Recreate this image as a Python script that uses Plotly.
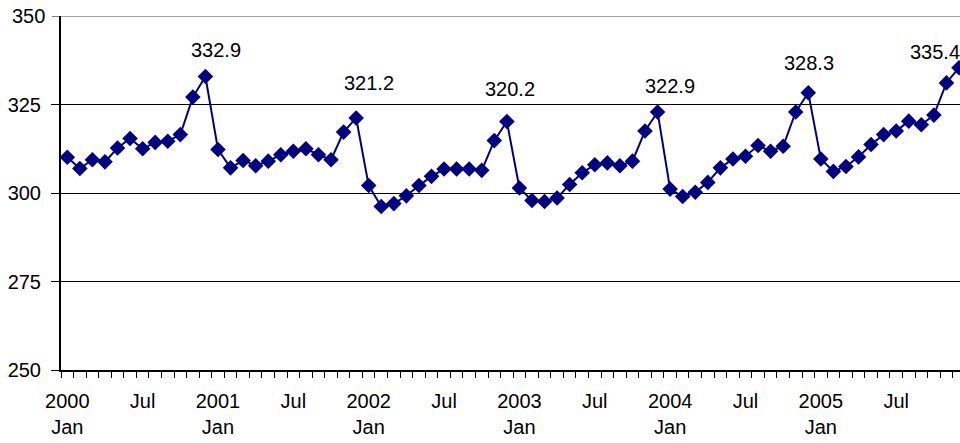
import plotly.graph_objects as go

years = [2000, 2001, 2002, 2003, 2004, 2005]
months = ["Jan", "Feb", "Mar", "Apr", "May", "Jun",
          "Jul", "Aug", "Sep", "Oct", "Nov", "Dec"]
categories = [f"{y} {m}" for y in years for m in months]

values = [
    310.1, 306.9, 309.4, 308.8, 312.7, 315.4, 312.5, 314.3, 314.6, 316.5, 327.1, 332.9,
    312.3, 307.1, 309.2, 307.7, 309.0, 310.8, 311.8, 312.5, 310.8, 309.4, 317.2, 321.2,
    302.1, 296.2, 297.0, 299.2, 302.1, 304.7, 306.8, 306.8, 306.8, 306.4, 314.8, 320.2,
    301.4, 297.9, 297.6, 298.6, 302.4, 305.7, 308.0, 308.5, 307.7, 309.0, 317.5, 322.9,
    301.1, 299.0, 300.2, 303.0, 307.1, 309.6, 310.4, 313.4, 311.8, 313.2, 322.9, 328.3,
    309.6, 306.1, 307.5, 310.2, 313.7, 316.5, 317.5, 320.3, 319.3, 322.0, 331.1, 335.4,
]

tick_idx = list(range(0, 72, 6))
tick_text = [f"{years[i // 12]}<br>Jan" if i % 12 == 0 else "Jul" for i in tick_idx]

peak_idx = [11, 23, 35, 47, 59, 71]
peak_dx = [11, 13, 3, 12, 1, -24]
peak_dy = [27, 35, 32, 26, 30, 16]

x = list(range(len(categories)))

fig = go.Figure()
fig.add_trace(go.Scatter(
    x=x, y=values, mode="lines+markers",
    line=dict(color="#000080", width=2),
    marker=dict(symbol="diamond", size=12, color="#000080"),
    text=categories, hoverinfo="text+y",
    showlegend=False, cliponaxis=False,
))

for i, dx, dy in zip(peak_idx, peak_dx, peak_dy):
    fig.add_annotation(x=i, y=values[i], text=f"{values[i]:.1f}",
                       showarrow=False, xshift=dx, yshift=dy,
                       font=dict(size=20, color="black"))

fig.add_shape(type="line", xref="paper", yref="y", x0=0, x1=1, y0=350, y1=350,
              line=dict(color="#a0a0a0", width=2), layer="above")

fig.update_layout(
    width=960, height=443,
    margin=dict(l=61, r=0, t=16, b=73),
    paper_bgcolor="white", plot_bgcolor="white",
    font=dict(family="Liberation Sans, Arial, sans-serif", size=20, color="black"),
    xaxis=dict(
        range=[-0.5, 71.08], tickmode="array", tickvals=tick_idx, ticktext=tick_text,
        ticks="", showgrid=False, zeroline=False, automargin=False,
        showline=True, linecolor="black", linewidth=2,
        minor=dict(tick0=-0.5, dtick=1, ticks="outside", ticklen=6,
                   tickcolor="black", tickwidth=1, showgrid=False),
        tickfont=dict(size=20), ticklabelstandoff=12,
    ),
    yaxis=dict(
        range=[250, 350], tickmode="array", tickvals=[250, 275, 300, 325],
        ticks="outside", ticklen=8, tickcolor="black", tickwidth=1,
        showgrid=True, gridcolor="black", gridwidth=1, zeroline=False,
        showline=True, linecolor="black", linewidth=2, automargin=False,
        tickfont=dict(size=20), ticklabelstandoff=6,
    ),
)
fig.add_annotation(xref="paper", yref="y", x=0, y=350, text="350", showarrow=False,
                   xanchor="right", xshift=-14, font=dict(size=20, color="black"))
fig.add_shape(type="line", xref="paper", yref="y", x0=-9, x1=0, y0=350, y1=350,
              xsizemode="pixel", xanchor=0, line=dict(color="black", width=1),
              layer="above")

fig.write_html("out.html", config={"displayModeBar": False},
               post_script="document.body.style.margin='0';document.body.style.overflow='hidden';")
